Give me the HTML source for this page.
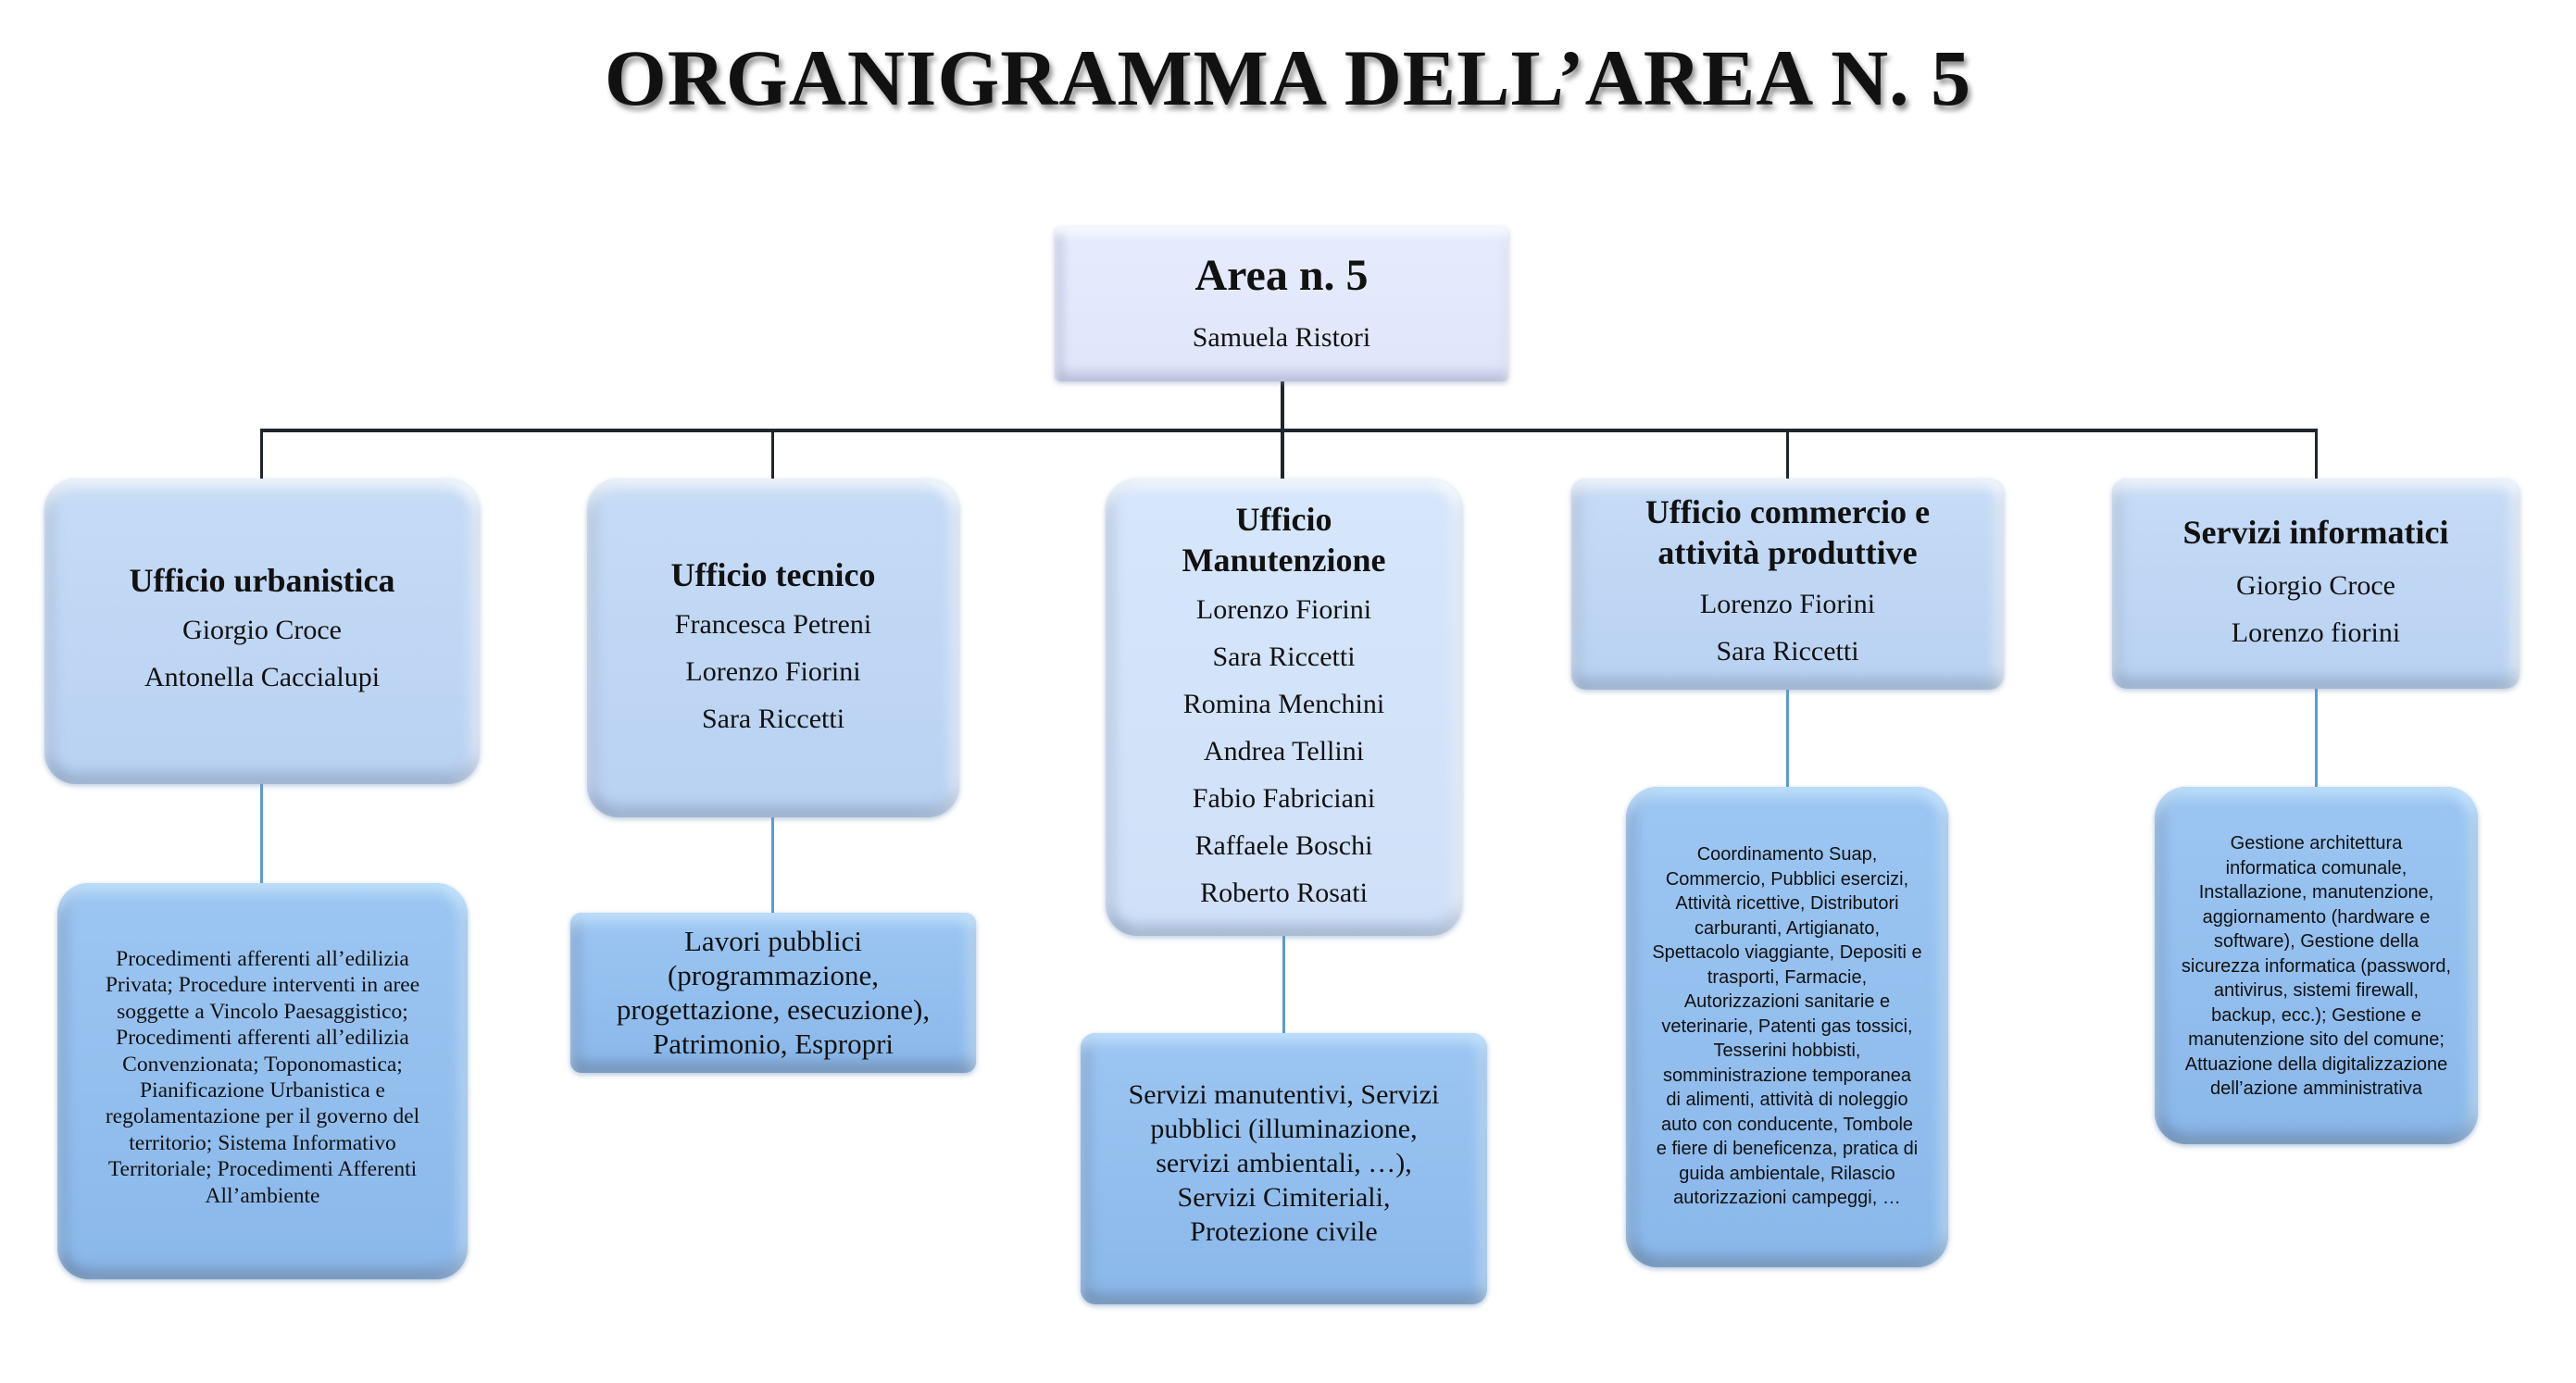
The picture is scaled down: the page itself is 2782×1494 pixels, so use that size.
<!DOCTYPE html>
<html><head><meta charset="utf-8"><style>
html,body{margin:0;padding:0;background:#fff;}
body{width:2782px;height:1494px;position:relative;overflow:hidden;font-family:"Liberation Serif",serif;color:#111;}
.t{position:absolute;left:0;width:2782px;top:34px;text-align:center;font-weight:bold;font-size:86px;letter-spacing:1px;text-shadow:3px 5px 6px rgba(0,0,0,.45);}
.b{position:absolute;box-sizing:border-box;text-align:center;border-radius:34px;white-space:nowrap;}
.l1{background:linear-gradient(#c6dbf6,#b9d2f2);box-shadow:inset 0 10px 14px rgba(255,255,255,.7),inset 0 -12px 14px rgba(120,140,170,.45),inset 10px 0 12px rgba(150,170,200,.35),inset -10px 0 12px rgba(255,255,255,.5),0 2px 6px rgba(120,150,190,.5);}
.l2{background:linear-gradient(#9cc6f2,#8ab8ea);box-shadow:inset 0 10px 14px rgba(200,230,255,.8),inset 0 -12px 14px rgba(100,120,150,.5),inset 10px 0 12px rgba(110,140,180,.4),inset -10px 0 12px rgba(200,230,255,.6),0 2px 6px rgba(100,140,190,.5);}
.h{font-weight:bold;font-size:36px;line-height:44px;}
.n{font-size:30px;line-height:51px;}
.line{position:absolute;background:#1f252c;}
.bl{position:absolute;background:#5b9bd5;width:3px;}
.s{font-family:"Liberation Sans",sans-serif;font-size:20px;line-height:26.5px;}
</style></head><body>
<div class="t">ORGANIGRAMMA DELL’AREA N. 5</div>

<div class="line" style="left:1383px;top:412px;width:4px;height:106px"></div>
<div class="line" style="left:281px;top:463px;width:2222px;height:4px"></div>
<div class="line" style="left:281px;top:463px;width:3px;height:54px"></div>
<div class="line" style="left:833px;top:463px;width:3px;height:54px"></div>
<div class="line" style="left:1929px;top:463px;width:3px;height:54px"></div>
<div class="line" style="left:2500px;top:463px;width:3px;height:54px"></div>

<div class="bl" style="left:281px;top:847px;height:108px"></div>
<div class="bl" style="left:833px;top:883px;height:104px"></div>
<div class="bl" style="left:1385px;top:1011px;height:106px"></div>
<div class="bl" style="left:1929px;top:745px;height:106px"></div>
<div class="bl" style="left:2500px;top:744px;height:107px"></div>

<div class="b" style="left:1139px;top:245px;width:490px;height:167px;border-radius:6px;background:linear-gradient(#e6ecfd,#dfe6fa);box-shadow:inset 0 8px 10px rgba(255,255,255,.8),inset 0 -10px 12px rgba(150,160,190,.45),inset 10px 0 10px rgba(170,180,210,.4),0 2px 6px rgba(140,150,180,.5);">
<div style="font-weight:bold;font-size:48px;line-height:50px;margin-top:28px">Area n. 5</div>
<div style="font-size:30px;line-height:40px;margin-top:22px">Samuela Ristori</div>
</div>

<div class="b l1" style="left:48px;top:517px;width:470px;height:330px;padding-top:88px">
<div class="h">Ufficio urbanistica</div>
<div class="n" style="margin-top:6px">Giorgio Croce<br>Antonella Caccialupi</div></div>

<div class="b l1" style="left:634px;top:517px;width:402px;height:366px;padding-top:82px">
<div class="h">Ufficio tecnico</div>
<div class="n" style="margin-top:6px">Francesca Petreni<br>Lorenzo Fiorini<br>Sara Riccetti</div></div>

<div class="b l1" style="left:1194px;top:517px;width:385px;height:494px;padding-top:22px;background:linear-gradient(#d6e6fb,#cfe0f8)">
<div class="h">Ufficio<br>Manutenzione</div>
<div class="n" style="margin-top:6px">Lorenzo Fiorini<br>Sara Riccetti<br>Romina Menchini<br>Andrea Tellini<br>Fabio Fabriciani<br>Raffaele Boschi<br>Roberto Rosati</div></div>

<div class="b l1" style="left:1697px;top:517px;width:467px;height:228px;padding-top:14px;border-radius:16px">
<div class="h">Ufficio commercio e<br>attività produttive</div>
<div class="n" style="margin-top:8px">Lorenzo Fiorini<br>Sara Riccetti</div></div>

<div class="b l1" style="left:2281px;top:517px;width:440px;height:227px;padding-top:36px;border-radius:16px">
<div class="h">Servizi informatici</div>
<div class="n" style="margin-top:10px">Giorgio Croce<br>Lorenzo fiorini</div></div>

<div class="b l2" style="left:62px;top:954px;width:443px;height:428px;padding-top:68px;font-size:23.5px;line-height:28.4px">Procedimenti afferenti all’edilizia<br>Privata; Procedure interventi in aree<br>soggette a Vincolo Paesaggistico;<br>Procedimenti afferenti all’edilizia<br>Convenzionata; Toponomastica;<br>Pianificazione Urbanistica e<br>regolamentazione per il governo del<br>territorio; Sistema Informativo<br>Territoriale; Procedimenti Afferenti<br>All’ambiente</div>

<div class="b l2" style="left:616px;top:986px;width:438px;height:173px;padding-top:12px;border-radius:12px;font-size:31px;line-height:37px">Lavori pubblici<br>(programmazione,<br>progettazione, esecuzione),<br>Patrimonio, Espropri</div>

<div class="b l2" style="left:1167px;top:1116px;width:439px;height:293px;padding-top:48px;border-radius:16px;font-size:30px;line-height:37px">Servizi manutentivi, Servizi<br>pubblici (illuminazione,<br>servizi ambientali, …),<br>Servizi Cimiteriali,<br>Protezione civile</div>

<div class="b l2 s" style="left:1756px;top:850px;width:348px;height:519px;padding:60px 0 0">Coordinamento Suap,<br>Commercio, Pubblici esercizi,<br>Attività ricettive, Distributori<br>carburanti, Artigianato,<br>Spettacolo viaggiante, Depositi e<br>trasporti, Farmacie,<br>Autorizzazioni sanitarie e<br>veterinarie, Patenti gas tossici,<br>Tesserini hobbisti,<br>somministrazione temporanea<br>di alimenti, attività di noleggio<br>auto con conducente, Tombole<br>e fiere di beneficenza, pratica di<br>guida ambientale, Rilascio<br>autorizzazioni campeggi, …</div>

<div class="b l2 s" style="left:2327px;top:850px;width:349px;height:386px;padding:48px 0 0">Gestione architettura<br>informatica comunale,<br>Installazione, manutenzione,<br>aggiornamento (hardware e<br>software), Gestione della<br>sicurezza informatica (password,<br>antivirus, sistemi firewall,<br>backup, ecc.); Gestione e<br>manutenzione sito del comune;<br>Attuazione della digitalizzazione<br>dell’azione amministrativa</div>
</body></html>
